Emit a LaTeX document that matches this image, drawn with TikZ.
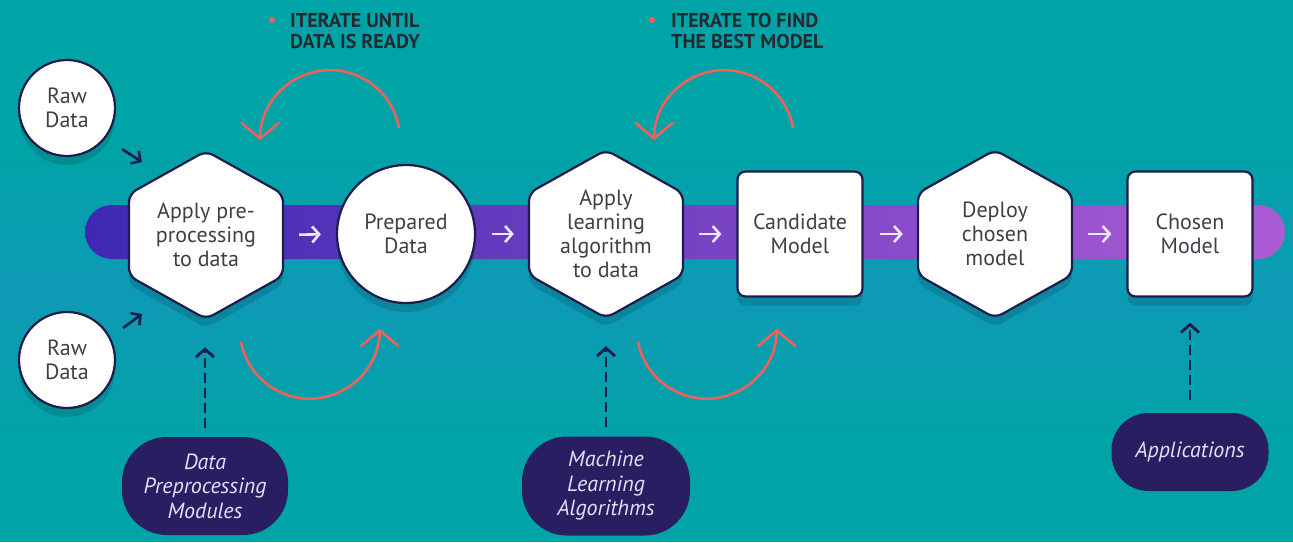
\documentclass[tikz,border=0pt]{standalone}
\usepackage{fontspec}
\setmainfont{PT Sans}
\usetikzlibrary{arrows.meta,calc,shadows}
\definecolor{bg}{RGB}{0,163,166}
\definecolor{bgblue}{RGB}{14,154,182}
\definecolor{navy}{RGB}{30,28,74}
\definecolor{pillc}{RGB}{42,30,98}
\definecolor{coral}{RGB}{240,96,92}
\definecolor{txt}{RGB}{62,64,72}
\definecolor{headc}{RGB}{36,42,50}
\definecolor{barL}{RGB}{62,40,178}
\definecolor{barR}{RGB}{172,92,212}
\definecolor{pilltxt}{RGB}{228,225,246}
\definecolor{arrw}{RGB}{236,234,248}
\newcommand\myhex[3]{%
  \draw[hexline] ($(#2)+(0,-84)$) -- ++(77,43) -- ++(0,82) -- ++(-77,43) -- ++(-77,-43) -- ++(0,-82) -- cycle;
  \node[hextext] (#1) at (#2) {#3};
}
\begin{document}
\begin{tikzpicture}[x=1pt,y=-1pt,
  nodefont/.style={font=\fontsize{22}{24}\selectfont, text=txt, align=center},
  shad/.style={drop shadow={shadow xshift=0pt, shadow yshift=-9pt, opacity=0.13, fill=black}},
  hexline/.style={draw=navy, line width=2.2pt, fill=white, rounded corners=8pt, shad},
  hextext/.style={nodefont, minimum width=154pt, minimum height=168pt, inner sep=0pt},
  roundnode/.style={nodefont, circle, draw=navy, line width=2.2pt, fill=white, inner sep=0pt, shad},
  boxnode/.style={nodefont, draw=navy, line width=2.2pt, fill=white, rounded corners=8pt, minimum width=125pt, minimum height=125pt, inner sep=0pt, shad},
  pillnode/.style={fill=pillc, text=pilltxt, align=center, inner sep=0pt, font=\fontsize{22}{24.5}\selectfont\itshape},
  whitearrow/.style={draw=arrw, line width=2.6pt, -{Straight Barb[length=7pt,width=16pt]}, shorten <=16pt, shorten >=15pt},
  darkarrow/.style={draw=navy, line width=2.6pt, -{Straight Barb[length=7pt,width=15pt]}},
  dasharrow/.style={draw=navy, line width=2.8pt, dash pattern=on 10pt off 5pt, -{Straight Barb[length=8pt,width=18pt]}},
  loop/.style={draw=coral, line width=2.6pt, -{Straight Barb[length=16pt,width=38pt]}},
  headtext/.style={font=\fontsize{20}{21}\selectfont\bfseries, text=headc, align=left, anchor=west, inner sep=0pt}
]
\useasboundingbox (0,0) rectangle (1293,542);
\fill[bg] (0,0) rectangle (1293,542);
\shade[top color=bg, bottom color=bg, middle color=bgblue] (0,150) rectangle (1293,440);
% bar
\shade[left color=barL, right color=barR, rounded corners=27pt] (85,205) rectangle (1285,259);
% raw data
\node[roundnode, minimum size=96pt] (raw1) at (67,108) {Raw\\Data};
\node[roundnode, minimum size=96pt] (raw2) at (67,360) {Raw\\Data};
\coordinate (r1s) at (122,149); \coordinate (r1e) at (142,162);
\coordinate (r2s) at (123,328); \coordinate (r2e) at (142,314);
\draw[darkarrow] (r1s) -- (r1e);
\draw[darkarrow] (r2s) -- (r2e);
% main chain
\myhex{hex1}{206,235}{Apply pre-\\processing\\to data}
\node[roundnode, minimum size=138pt] (prep) at (406,234) {Prepared\\Data};
\myhex{hex2}{606,234}{Apply\\learning\\algorithm\\to data}
\node[boxnode] (cand) at (800,234) {Candidate\\Model};
\myhex{hex3}{995,234}{Deploy\\chosen\\model}
\node[boxnode] (chosen) at (1190,234) {Chosen\\Model};
\draw[whitearrow] (hex1.east) -- (prep.west);
\draw[whitearrow] (prep.east) -- (hex2.west);
\draw[whitearrow] (hex2.east) -- (cand.west);
\draw[whitearrow] (cand.east) -- (hex3.west);
\draw[whitearrow] (hex3.east) -- (chosen.west);
% loops
\draw[loop] (399,128) arc[start angle=-10, end angle=-180, radius=70];
\draw[loop] (793,128) arc[start angle=-10, end angle=-180, radius=70];
\draw[loop] (241,342) arc[start angle=169, end angle=0, radius=70];
\draw[loop] (638,342) arc[start angle=169, end angle=0, radius=70];
% headings
\node[circle, fill=coral, inner sep=0pt, minimum size=6pt] (dot1) at (272,20) {};
\node[headtext] (h1) at (290,31) {ITERATE UNTIL\\DATA IS READY};
\node[circle, fill=coral, inner sep=0pt, minimum size=6pt] (dot2) at (652,20) {};
\node[headtext] (h2) at (671,31) {ITERATE TO FIND\\THE BEST MODEL};
% pills
\node[pillnode, rounded corners=45pt, minimum width=166pt, minimum height=98pt] (pill1) at (205,486) {Data\\Preprocessing\\Modules};
\node[pillnode, rounded corners=45pt, minimum width=168pt, minimum height=99pt] (pill2) at (606,486) {Machine\\Learning\\Algorithms};
\node[pillnode, rounded corners=37pt, minimum width=157pt, minimum height=78pt] (pill3) at (1190,452) {Applications};
\draw[dasharrow, shorten <=9pt, shorten >=28pt] (pill1.north) -- (pill1.north |- hex1.south);
\draw[dasharrow, shorten <=9pt, shorten >=28pt] (pill2.north) -- (hex2.south);
\draw[dasharrow, shorten <=13pt, shorten >=25pt] (pill3.north) -- (chosen.south);
\end{tikzpicture}
\end{document}
